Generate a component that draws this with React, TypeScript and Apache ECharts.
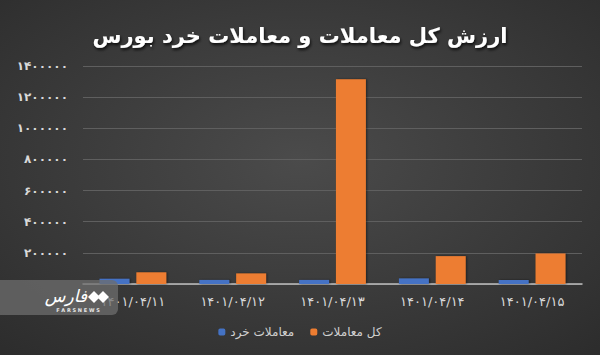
import React, { useEffect, useRef } from "react";
import * as echarts from "echarts";

const categories = ["1401/04/11", "1401/04/12", "1401/04/13", "1401/04/14", "1401/04/15"];
const retailValues = [34000, 26000, 26000, 36000, 26000];
const totalValues = [75000, 68000, 1315000, 179000, 196000];
const seriesNames = ["معاملات خرد", "کل معاملات"];
const titleText = "ارزش کل معاملات و معاملات خرد بورس";

const toFa = (s: string | number) =>
  String(s).replace(/[0-9]/g, (d) => "۰۱۲۳۴۵۶۷۸۹"[Number(d)]);

export default function App() {
  const ref = useRef<HTMLDivElement>(null);
  useEffect(() => {
    document.body.style.margin = "0";
    if (!ref.current) return;
    const chart = echarts.init(ref.current, undefined, { renderer: "svg" });
    chart.setOption({
      animation: false,
      backgroundColor: {
        type: "radial",
        x: 0.5,
        y: 0.45,
        r: 0.75,
        colorStops: [
          { offset: 0, color: "#4b4b4b" },
          { offset: 1, color: "#2c2c2c" },
        ],
      },
      title: {
        text: titleText,
        left: "center",
        top: 20,
        textStyle: {
          color: "#ffffff",
          fontSize: 21,
          fontWeight: "bold",
          fontFamily: "DejaVu Sans",
          textShadowColor: "rgba(0,0,0,0.8)",
          textShadowBlur: 3,
          textShadowOffsetX: 1,
          textShadowOffsetY: 2,
        },
      },
      grid: { left: 83, right: 18, top: 66, bottom: 71 },
      legend: {
        data: seriesNames,
        bottom: 12,
        left: "center",
        itemWidth: 7,
        itemHeight: 7,
        itemGap: 16,
        textStyle: { color: "#d0d0d0", fontSize: 12, fontFamily: "DejaVu Sans" },
      },
      xAxis: {
        type: "category",
        data: categories,
        axisLine: { lineStyle: { color: "#bfbfbf", width: 1.5 } },
        axisTick: { show: false },
        axisLabel: {
          color: "#d9d9d9",
          fontSize: 13,
          margin: 11,
          fontFamily: "DejaVu Sans",
          formatter: (v: string) => toFa(v),
        },
      },
      yAxis: {
        type: "value",
        min: 0,
        max: 1400000,
        interval: 200000,
        axisLine: { show: false },
        axisTick: { show: false },
        splitLine: { lineStyle: { color: "#5f5f5f", width: 1 } },
        axisLabel: {
          color: "#d9d9d9",
          fontSize: 12,
          fontWeight: "bold",
          margin: 15,
          fontFamily: "DejaVu Sans",
          formatter: (v: number) => (v === 0 ? "" : toFa(v)),
        },
      },
      series: [
        {
          name: seriesNames[0],
          type: "bar",
          data: retailValues,
          barWidth: "30%",
          barGap: "23%",
          itemStyle: {
            color: "#4472c4",
            shadowColor: "rgba(0,0,0,0.5)",
            shadowBlur: 2,
            shadowOffsetX: 1,
          },
        },
        {
          name: seriesNames[1],
          type: "bar",
          data: totalValues,
          barWidth: "30%",
          itemStyle: {
            color: "#ed7d31",
            shadowColor: "rgba(0,0,0,0.5)",
            shadowBlur: 2,
            shadowOffsetX: 1,
          },
        },
      ],
      graphic: [
        {
          type: "rect",
          shape: { x: 0, y: 280, width: 118, height: 35, r: [0, 6, 6, 0] },
          style: { fill: "rgba(110,110,110,0.75)" },
          z: 100,
        },
        {
          type: "polygon",
          shape: { points: [[88, 297], [94, 291], [100, 297], [94, 303]] },
          style: { fill: "#ffffff" },
          z: 101,
        },
        {
          type: "polygon",
          shape: { points: [[97, 297], [103, 291], [109, 297], [103, 303]] },
          style: { fill: "#ffffff" },
          z: 101,
        },
        {
          type: "text",
          style: {
            text: "فارس",
            x: 66,
            y: 296,
            align: "center",
            verticalAlign: "middle",
            fill: "#ffffff",
            font: "italic 17px 'DejaVu Sans'",
          },
          z: 101,
        },
        {
          type: "text",
          style: {
            text: "F A R S N E W S",
            x: 78,
            y: 310,
            align: "center",
            verticalAlign: "middle",
            fill: "#e8e8e8",
            font: "bold 5px 'DejaVu Sans'",
          },
          z: 101,
        },
      ],
    });
    return () => chart.dispose();
  }, []);
  return <div ref={ref} style={{ width: 600, height: 355 }} />;
}
